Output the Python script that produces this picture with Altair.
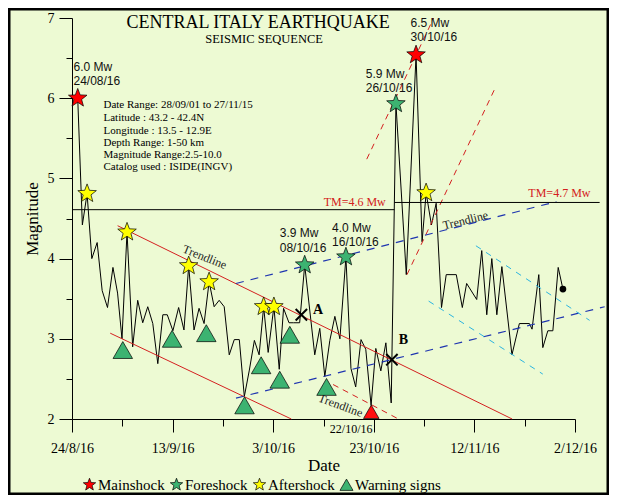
import altair as alt
import pandas as pd

# ---------------- data ----------------
# day 0 = 24/8/16
day = [1.14, 2.06, 3.0, 3.94, 5.0, 6.0, 7.06, 8.14, 9.06, 9.94,
       10.94, 12.06, 13.06, 14.06, 15.06, 16.06, 17.06, 18.06, 18.94, 20.06,
       21.2, 22.26, 23.2, 24.26, 25.26, 26.26, 27.26, 28.26, 29.26, 30.26,
       31.26, 32.26, 33.26, 34.26, 35.26, 36.26, 37.2, 38.1, 39.0, 40.14,
       41.2, 42.06, 43.14, 44.06, 45.26, 46.26, 48.26, 49.26, 50.26, 51.26,
       52.26, 53.26, 54.46, 55.46, 56.4, 57.46, 58.4, 59.46, 60.4, 61.4,
       62.4, 63.46, 64.4, 66.46, 68.4, 69.6, 70.4, 71.46, 72.4, 73.46,
       74.4, 76.4, 77.6, 78.46, 80.46, 81.46, 82.46, 83.46, 84.46, 85.46,
       87.46, 88.94, 90.94, 91.46, 92.8, 93.6, 94.6, 95.6, 96.66, 97.6]
mag = [6.0, 4.42, 4.81, 4.0, 4.2, 3.6, 3.39, 3.89, 3.57, 3.0,
       4.33, 2.9, 3.48, 3.2, 3.4, 3.19, 2.69, 3.3, 3.3, 3.1,
       3.39, 3.11, 3.91, 3.11, 3.38, 3.19, 3.71, 3.4, 3.48, 3.4,
       2.8, 2.99, 2.99, 2.28, 2.61, 2.98, 2.8, 3.4, 2.83, 3.4,
       2.62, 3.38, 3.2, 3.2, 3.2, 3.92, 2.8, 3.13, 2.53, 2.98,
       3.28, 3.0, 4.02, 2.63, 2.4, 2.99, 2.87, 2.17, 2.88, 2.6,
       2.95, 2.2, 5.93, 3.8, 6.54, 4.21, 4.82, 4.42, 4.69, 3.39,
       3.8, 3.8, 3.39, 3.69, 3.49, 4.1, 3.3, 4.0, 3.3, 3.9,
       2.8, 3.19, 3.19, 3.12, 3.8, 2.89, 3.1, 3.1, 3.89, 3.62]

x_tick_values = [0, 10, 20, 30, 40, 50, 60, 70, 80, 90, 100]
x_tick_labels = ["24/8/16", "13/9/16", "3/10/16", "23/10/16", "12/11/16", "2/12/16"]
y_tick_values = [2, 2.5, 3, 3.5, 4, 4.5, 5, 5.5, 6, 6.5, 7]

main_d = [1.14, 68.4]
main_m = [6.0, 6.54]
fore_d = [46.26, 54.46, 64.4]
fore_m = [3.92, 4.02, 5.93]
after_d = [3.0, 10.94, 23.2, 27.26, 38.1, 40.14, 70.4]
after_m = [4.81, 4.33, 3.91, 3.71, 3.4, 3.4, 4.82]
warn_d = [10.1, 19.9, 26.7, 34.3, 37.6, 41.3, 43.3, 50.6]
warn_m = [2.86, 3.0, 3.07, 2.17, 2.67, 2.49, 3.05, 2.40]
red_warn_d = [59.5]
red_warn_m = [2.09]
cross_d = [45.6, 63.6]
cross_m = [3.30, 2.74]
cross_lab = ["A", "B"]
cross_lab_d = [48.9, 65.9]
cross_lab_m = [3.36, 2.99]
end_d = [97.6]
end_m = [3.62]

# trend lines: start/end
red_solid = {"d": [9.07, 7.6], "m": [4.41, 3.07], "d2": [87.5, 43.6], "m2": [2.0, 2.0]}
red_dash = {"d": [51.9, 58.6, 66.6], "m": [2.43, 5.24, 3.80], "d2": [64.6, 71.9, 84.3], "m2": [2.01, 7.0, 6.15]}
blue_dash = {"d": [32.6, 32.6], "m": [3.69, 2.26], "d2": [96.3, 105.9], "m2": [4.71, 3.40]}
cyan_dash = {"d": [80.3, 70.9], "m": [4.16, 3.47], "d2": [102.9, 93.6], "m2": [3.23, 2.56]}
tm_lines = {"d": [0, 64.1], "m": [4.61, 4.70], "d2": [64.1, 104.9], "m2": [4.61, 4.70]}

ann_d = [0.3, 0.3, 41.3, 41.3, 51.7, 51.7, 58.4, 58.4, 67.3, 67.3]
ann_m = [6.394, 6.219, 4.313, 4.138, 4.381, 4.207, 6.30, 6.125, 6.934, 6.759]
ann_t = ["6.0 Mw", "24/08/16", "3.9 Mw", "08/10/16", "4.0 Mw", "16/10/16",
         "5.9 Mw", "26/10/16", "6.5 Mw", "30/10/16"]

info_d = [6.26] * 6
info_m = [5.915, 5.753, 5.595, 5.438, 5.288, 5.138]
info_t = ["Date Range: 28/09/01 to 27/11/15", "Latitude : 43.2 - 42.4N",
          "Longitude : 13.5 - 12.9E", "Depth Range: 1-50 km",
          "Magnitude Range:2.5-10.0", "Catalog used : ISIDE(INGV)"]

tm_lab_d = [56.2, 96.9]
tm_lab_m = [4.70, 4.82]
tm_lab_t = ["TM=4.6 Mw", "TM=4.7 Mw"]

trend_lab_d = [26.4, 53.4, 78.2]
trend_lab_m = [4.02, 2.17, 4.48]
trend_lab_a = [22, 20, 346]

title_d = [37.0, 38.2]
title_m = [6.88, 6.69]
title_t = ["CENTRAL ITALY EARTHQUAKE", "SEISMIC SEQUENCE"]
title_s = [18, 12.5]

date_lab_d = [55.5]
date_lab_m = [1.875]
date_lab_t = ["22/10/16"]

types = ["Mainshock", "Foreshock", "Aftershock", "Warning signs"]
type_colors = ["#ff0000", "#3cb371", "#ffff00", "#3cb371"]

# ---------------- chart ----------------
SERIF = "Liberation Serif"
SANS = "Liberation Sans"
STAR = ("M0,-1L0.247,-0.34L0.951,-0.309L0.399,0.13L0.588,0.809L0,0.42"
        "L-0.588,0.809L-0.399,0.13L-0.951,-0.309L-0.247,-0.34Z")
type_shapes = [STAR, STAR, STAR, "triangle-up"]

xs = alt.Scale(domain=[0, 100], nice=False, zero=False)
ys = alt.Scale(domain=[2, 7], nice=False, zero=False)

lab_arr = "[" + ",".join("'%s'" % s for s in x_tick_labels) + "]"
xaxis = alt.Axis(values=x_tick_values, grid=False, title="Date", orient="bottom",
                 labelExpr="datum.value %% 20 === 0 ? %s[datum.value/20] : ''" % lab_arr,
                 tickSize={"condition": {"test": "datum.value % 20 === 0", "value": 13}, "value": 7},
                 labelPadding=9, labelFlush=False, labelOverlap=False,
                 labelFont=SERIF, labelFontSize=14, labelColor="black",
                 titleFont=SERIF, titleFontSize=17, titleFontWeight="normal",
                 titleColor="black", titlePadding=2,
                 domainColor="black", tickColor="black")
yaxis = alt.Axis(values=y_tick_values, grid=False, title="Magnitude", orient="left",
                 labelExpr="datum.value % 1 === 0 ? '' + datum.value : ''",
                 tickSize={"condition": {"test": "datum.value % 1 === 0", "value": 13}, "value": 6},
                 labelPadding=5, labelFlush=False, labelOverlap=False,
                 labelFont=SERIF, labelFontSize=14, labelColor="black",
                 titleFont=SERIF, titleFontSize=17, titleFontWeight="normal",
                 titleColor="black", titlePadding=6,
                 domainColor="black", tickColor="black")


def X(f="d"):
    return alt.X(f + ":Q", scale=xs, axis=xaxis)


def Y(f="m"):
    return alt.Y(f + ":Q", scale=ys, axis=yaxis)


def rules(dct, color, dash=None, width=1.0):
    df = pd.DataFrame(dct)
    kw = dict(color=color, strokeWidth=width)
    if dash:
        kw["strokeDash"] = dash
    return alt.Chart(df).mark_rule(**kw).encode(
        x=X(), y=Y(), x2="d2:Q", y2="m2:Q")


def texts(ds, ms, ts, **kw):
    return alt.Chart(pd.DataFrame({"d": ds, "m": ms, "t": ts})).mark_text(**kw).encode(
        x=X(), y=Y(), text="t:N")


series = alt.Chart(pd.DataFrame({"d": day, "m": mag})).mark_line(
    color="black", strokeWidth=1).encode(x=X(), y=Y())

l_red = rules(red_solid, "#d42020")
l_red_d = rules(red_dash, "#d42020", [6, 5])
l_blue = rules(blue_dash, "#1f35b0", [8, 7], 1.2)
l_cyan = rules(cyan_dash, "#2cb5e0", [6, 6])
l_tm = rules(tm_lines, "black")

ann = texts(ann_d, ann_m, ann_t, font=SANS, fontSize=12, align="left",
            baseline="middle", color="#111111")
info = texts(info_d, info_m, info_t, font=SERIF, fontSize=11, align="left",
             baseline="middle", color="black")
tm_txt = texts(tm_lab_d, tm_lab_m, tm_lab_t, font=SERIF, fontSize=12,
               baseline="middle", color="#d42020")
date_txt = texts(date_lab_d, date_lab_m, date_lab_t, font=SERIF, fontSize=12,
                 baseline="middle", color="black")
cross_txt = texts(cross_lab_d, cross_lab_m, cross_lab, font=SERIF, fontSize=14,
                  fontWeight="bold", baseline="middle", color="black")
title_layers = [texts([title_d[i]], [title_m[i]], [title_t[i]], font=SERIF,
                      fontSize=title_s[i], baseline="alphabetic", color="black")
                for i in range(2)]
trend_layers = [texts([trend_lab_d[i]], [trend_lab_m[i]], ["Trendline"], font=SERIF,
                      fontSize=12, baseline="middle", color="#222222",
                      angle=trend_lab_a[i])
                for i in range(3)]

end_dot = alt.Chart(pd.DataFrame({"d": end_d, "m": end_m})).mark_circle(
    size=45, color="black", opacity=1).encode(x=X(), y=Y())
crosses = alt.Chart(pd.DataFrame({"d": cross_d, "m": cross_m})).mark_point(
    shape="M-1,-1L1,1M1,-1L-1,1", size=130, color="black", strokeWidth=2,
    filled=False, opacity=1).encode(x=X(), y=Y())
red_tri = alt.Chart(pd.DataFrame({"d": red_warn_d, "m": red_warn_m})).mark_point(
    filled=True, stroke="black", strokeWidth=0.7, opacity=1, size=240,
    shape="triangle-up", color="#ff1010").encode(x=X(), y=Y())

frame = alt.Chart(pd.DataFrame({"k": [0]})).mark_rect(
    fill="transparent", stroke="black", strokeWidth=2.5).encode(
    x=alt.value(-62.75), x2=alt.value(535.75), y=alt.value(-8.75), y2=alt.value(475.75))

mk = pd.DataFrame({
    "d": main_d + fore_d + after_d + warn_d,
    "m": main_m + fore_m + after_m + warn_m,
    "kind": ["Mainshock"] * len(main_d) + ["Foreshock"] * len(fore_d)
            + ["Aftershock"] * len(after_d) + ["Warning signs"] * len(warn_d),
})
legend = alt.Legend(orient="none", legendX=10, legendY=459, direction="horizontal",
                    title=None, labelFont=SERIF, labelFontSize=15, labelColor="black",
                    symbolSize=170, symbolStrokeColor="black", symbolStrokeWidth=0.7,
                    columnPadding=3, labelOffset=1, padding=0)
markers = alt.Chart(mk).mark_point(filled=True, stroke="black", strokeWidth=0.7,
                                   opacity=1, size=380).encode(
    x=X(), y=Y(),
    color=alt.Color("kind:N", scale=alt.Scale(domain=types, range=type_colors), legend=legend),
    shape=alt.Shape("kind:N", scale=alt.Scale(domain=types, range=type_shapes), legend=legend),
)

chart = alt.layer(
    series, l_red, l_red_d, l_blue, l_cyan, l_tm,
    ann, info, tm_txt, date_txt, cross_txt, end_dot, red_tri, crosses,
    *title_layers, *trend_layers, frame, markers
).properties(
    width=503, height=401,
    autosize=alt.AutoSizeParams(type="none"),
    padding={"left": 64, "top": 10, "right": 34, "bottom": 76},
    background="#edfad3",
).configure_view(strokeWidth=0)

chart.save("out.html", embed_options={"renderer": "svg", "actions": False})
